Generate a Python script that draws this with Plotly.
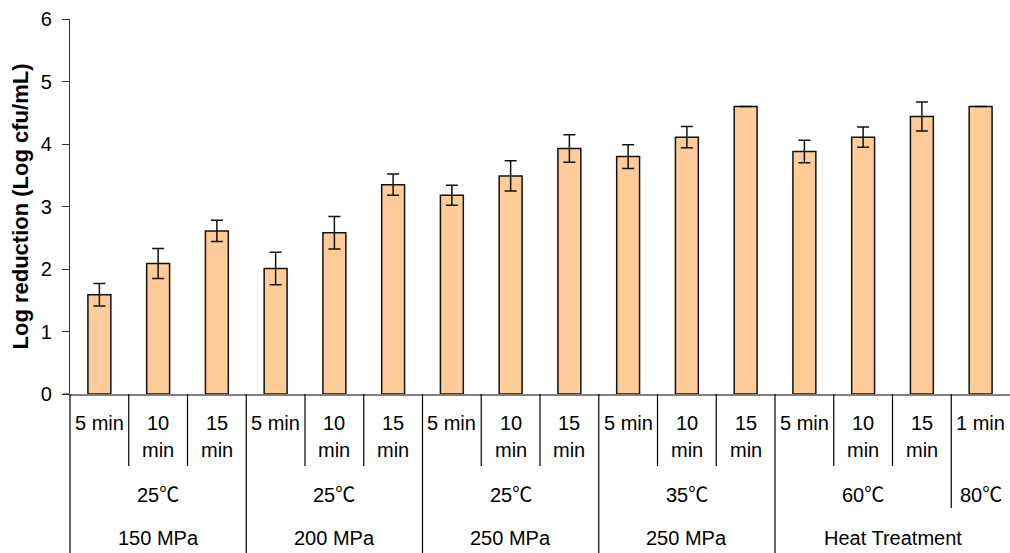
import plotly.graph_objects as go

# ---- data ----
time_labels = ["5 min", "10<br>min", "15<br>min",
               "5 min", "10<br>min", "15<br>min",
               "5 min", "10<br>min", "15<br>min",
               "5 min", "10<br>min", "15<br>min",
               "5 min", "10<br>min", "15<br>min",
               "1 min"]
log_reduction = [1.59, 2.09, 2.61, 2.01, 2.58, 3.35, 3.18, 3.49, 3.93,
                 3.80, 4.11, 4.60, 3.88, 4.11, 4.44, 4.60]
error_sd = [0.18, 0.24, 0.17, 0.26, 0.26, 0.17, 0.16, 0.24, 0.22,
            0.19, 0.17, 0.0, 0.18, 0.16, 0.23, 0.0]
temp_labels = ["25℃", "25℃", "25℃", "35℃", "60℃", "80℃"]
temp_sizes = [3, 3, 3, 3, 3, 1]
treat_labels = ["150 MPa", "200 MPa", "250 MPa", "250 MPa", "Heat Treatment"]
treat_sizes = [3, 3, 3, 3, 4]
y_ticks = [0, 1, 2, 3, 4, 5, 6]

FONT = "Liberation Sans, Arial, Noto Sans CJK SC, sans-serif"
FS = 20
PLOT_H = 375  # plot area height in px (for pixel offsets below the axis)

x = list(range(len(log_reduction)))

fig = go.Figure()
fig.add_trace(go.Bar(
    x=x, y=log_reduction, width=0.39,
    marker=dict(color="#FFCC99", line=dict(color="#111111", width=1.5)),
    error_y=dict(type="data", array=error_sd, visible=True,
                 color="#111111", thickness=1.5, width=6),
    showlegend=False,
))

def py(px_below):
    return -px_below / PLOT_H

annotations = []
shapes = []

# row 1: time labels (each line placed separately)
for i, lab in enumerate(time_labels):
    for j, line in enumerate(lab.split("<br>")):
        annotations.append(dict(x=i, y=py(29 + 27 * j), xref="x", yref="paper",
                                text=line, showarrow=False, xanchor="center",
                                yanchor="middle", font=dict(size=FS, family=FONT, color="#000")))

# group boundaries
temp_bounds = []
s = 0
for n in temp_sizes:
    s += n
    temp_bounds.append(s)
treat_bounds = []
s = 0
for n in treat_sizes:
    s += n
    treat_bounds.append(s)

# row 2: temperatures
s = 0
for lab, n in zip(temp_labels, temp_sizes):
    annotations.append(dict(x=s + (n - 1) / 2, y=py(101), xref="x", yref="paper",
                            text=lab, showarrow=False, xanchor="center", yanchor="middle",
                            font=dict(size=FS, family=FONT, color="#000")))
    s += n
# row 3: treatments
s = 0
for lab, n in zip(treat_labels, treat_sizes):
    annotations.append(dict(x=s + (n - 1) / 2, y=py(144), xref="x", yref="paper",
                            text=lab, showarrow=False, xanchor="center", yanchor="middle",
                            font=dict(size=FS, family=FONT, color="#000")))
    s += n

# separators
for k in range(1, len(log_reduction)):
    if k in treat_bounds:
        y1 = py(170)
    elif k in temp_bounds:
        y1 = py(114)
    else:
        y1 = py(72)
    shapes.append(dict(type="line", xref="x", yref="paper", x0=k - 0.5, x1=k - 0.5,
                       y0=0, y1=y1, line=dict(color="#000", width=1.2)))
# left frame line of the category table
shapes.append(dict(type="line", xref="paper", yref="paper", x0=0, x1=0,
                   y0=0, y1=py(170), line=dict(color="#000", width=1.2)))
# baseline stub extending left of the y axis
shapes.append(dict(type="line", xref="paper", yref="y", x0=-7 / 940, x1=0,
                   y0=0, y1=0, line=dict(color="#808080", width=2)))

fig.update_layout(
    width=1010, height=553,
    margin=dict(l=70, r=0, t=19, b=159, autoexpand=False),
    paper_bgcolor="white", plot_bgcolor="white",
    font=dict(family=FONT, size=FS, color="#000"),
    xaxis=dict(range=[-0.5, 15.5], showticklabels=False, ticks="",
               showgrid=False, zeroline=False, showline=True,
               linecolor="#808080", linewidth=2, automargin=False),
    yaxis=dict(range=[0, 6], tickvals=y_ticks, ticks="outside", ticklen=7,
               tickcolor="#333", tickwidth=1, showgrid=False, zeroline=False,
               showline=True, linecolor="#333", linewidth=1.2,
               ticklabelstandoff=6, automargin=False,
               tickfont=dict(size=FS, family=FONT, color="#000"),
               title=dict(text="<b>Log reduction (Log cfu/mL)</b>",
                          font=dict(size=22, family=FONT, color="#000"), standoff=6)),
    annotations=annotations,
    shapes=shapes,
    bargap=0.6,
)

fig.write_html("out.html", config={"displayModeBar": False},
               post_script="document.body.style.margin='0';document.body.style.overflow='hidden';")
